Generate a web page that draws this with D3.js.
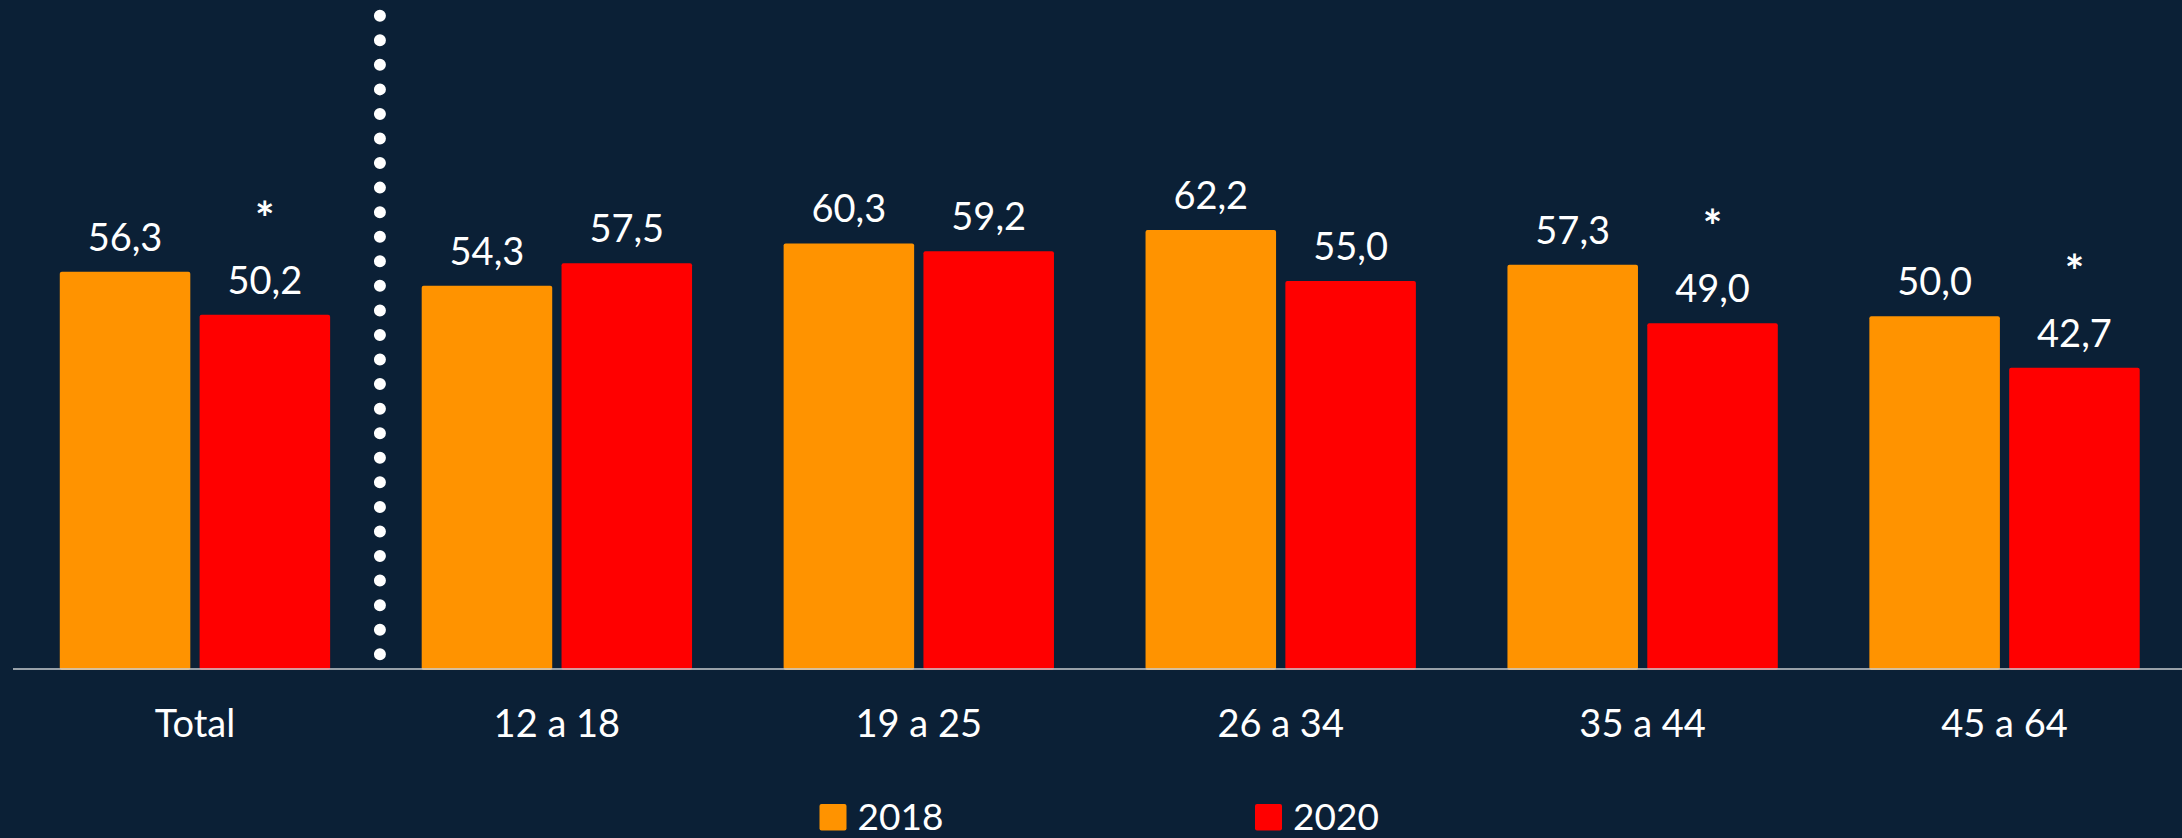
<!DOCTYPE html>
<html>
<head>
<meta charset="utf-8">
<script src="https://cdn.jsdelivr.net/npm/d3@7"></script>
<style>
  html, body { margin: 0; padding: 0; background: #0b2036; }
  svg { display: block; }
</style>
</head>
<body>
<div id="container"></div>
<script>
/* DATA */
const categories = ["Total", "12 a 18", "19 a 25", "26 a 34", "35 a 44", "45 a 64"];
const series = ["2018", "2020"];
const values2018 = [56.3, 54.3, 60.3, 62.2, 57.3, 50.0];
const values2020 = [50.2, 57.5, 59.2, 55.0, 49.0, 42.7];
const starred2020 = [true, false, false, false, true, true]; /* significant change marker */

/* CONSTANTS */
const width = 2182, height = 838;
const baseY = 669.5;
const colors = { "2018": "#ff9300", "2020": "#ff0000" };
const font = "Lato, 'Open Sans', sans-serif";

const svg = d3.select("#container")
  .append("svg")
  .attr("width", width)
  .attr("height", height)
  .style("background", "#0b2036");

/* SCALES */
const x0 = d3.scaleBand()
  .domain(categories)
  .range([14, 2185.5])
  .paddingInner(0.253)
  .paddingOuter(0.1265);

const x1 = d3.scaleBand()
  .domain(series)
  .range([0, x0.bandwidth()])
  .paddingInner(0.0665);

const y = d3.scaleLinear()
  .domain([0, 100])
  .range([baseY, baseY - 706.5]);

const fmt = v => d3.format(".1f")(v).replace(".", ",");

const rows = categories.map((c, i) => ({
  cat: c,
  vals: [
    { s: "2018", v: values2018[i], star: false },
    { s: "2020", v: values2020[i], star: starred2020[i] }
  ]
}));

/* BARS */
const groups = svg.selectAll(".grp")
  .data(rows)
  .join("g")
  .attr("class", "grp")
  .attr("transform", d => `translate(${x0(d.cat)},0)`);

groups.selectAll("rect")
  .data(d => d.vals)
  .join("rect")
  .attr("x", d => x1(d.s))
  .attr("y", d => y(d.v))
  .attr("width", x1.bandwidth())
  .attr("height", d => baseY + 0.5 - y(d.v))
  .attr("rx", 2)
  .attr("fill", d => colors[d.s]);

/* value labels */
groups.selectAll(".val")
  .data(d => d.vals)
  .join("text")
  .attr("class", "val")
  .attr("x", d => x1(d.s) + x1.bandwidth() / 2)
  .attr("y", d => y(d.v) - 21)
  .attr("text-anchor", "middle")
  .style("font-family", font)
  .style("font-size", "38px")
  .style("fill", "#ffffff")
  .text(d => fmt(d.v));

/* asterisks */
groups.selectAll(".star")
  .data(d => d.vals.filter(v => v.star))
  .join("text")
  .attr("class", "star")
  .attr("x", d => x1(d.s) + x1.bandwidth() / 2)
  .attr("y", d => y(d.v) - 80)
  .attr("text-anchor", "middle")
  .style("font-family", font)
  .style("font-weight", "bold")
  .style("font-size", "46px")
  .style("fill", "#ffffff")
  .text("*");

/* AXIS LINE */
svg.append("line")
  .attr("x1", 13).attr("x2", width)
  .attr("y1", 669).attr("y2", 669)
  .attr("stroke", "#c9ccd1")
  .attr("stroke-width", 1.5);

/* category labels */
svg.selectAll(".cat")
  .data(categories)
  .join("text")
  .attr("class", "cat")
  .attr("x", d => x0(d) + x0.bandwidth() / 2)
  .attr("y", 737)
  .attr("text-anchor", "middle")
  .style("font-family", font)
  .style("font-size", "38px")
  .style("fill", "#ffffff")
  .text(d => d);

/* DOTTED SEPARATOR between Total and age groups */
const sepX = (x0(categories[0]) + x0(categories[1]) + x0.bandwidth()) / 2 + 4;
svg.append("line")
  .attr("x1", sepX).attr("x2", sepX)
  .attr("y1", 15.7).attr("y2", 660)
  .attr("stroke", "#ffffff")
  .attr("stroke-width", 12)
  .attr("stroke-linecap", "round")
  .attr("stroke-dasharray", "0 24.56");

/* LEGEND */
const legendX = [819.5, 1255];
const legend = svg.selectAll(".leg")
  .data(series)
  .join("g")
  .attr("class", "leg")
  .attr("transform", (d, i) => `translate(${legendX[i]},804)`);

legend.append("rect")
  .attr("width", 27)
  .attr("height", 26.5)
  .attr("rx", 2)
  .attr("fill", d => colors[d]);

legend.append("text")
  .attr("x", 38)
  .attr("y", 25.5)
  .style("font-family", font)
  .style("font-size", "37px")
  .style("fill", "#ffffff")
  .text(d => d);
</script>
</body>
</html>
